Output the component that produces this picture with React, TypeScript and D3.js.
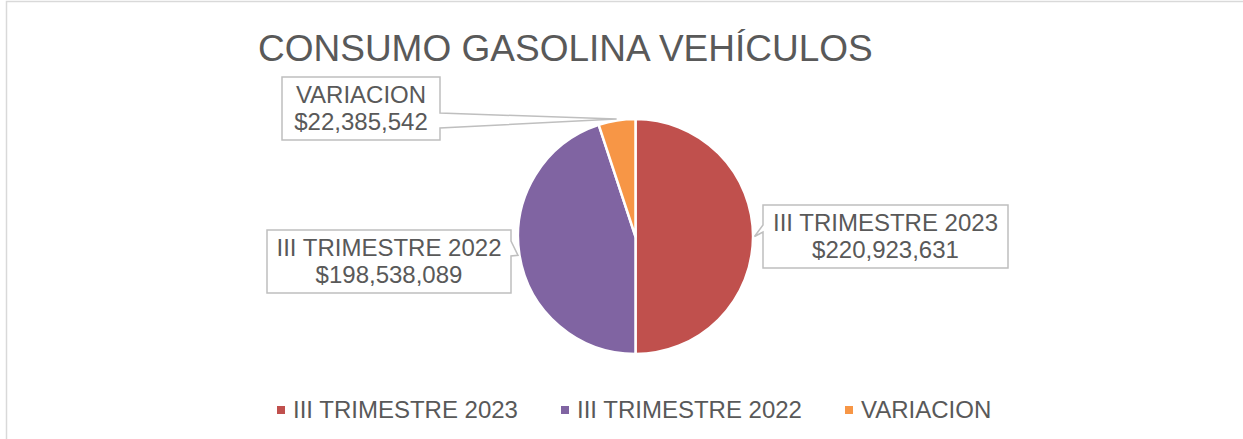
import React from "react";
import * as d3 from "d3";

const categories = ["III TRIMESTRE 2023", "III TRIMESTRE 2022", "VARIACION"];
const values = [220923631, 198538089, 22385542];
const colors = ["#C0504D", "#8064A2", "#F79646"];
const title = "CONSUMO GASOLINA VEHÍCULOS";

const W = 1243;
const H = 439;
const cx = 635.5;
const cy = 236.5;
const R = 117.5;
const FONT = "'Liberation Sans', Arial, sans-serif";
const TEXT = "#595959";

// callout box layout (x, y, width, height, side where wedge attaches, wedge base on edge)
const boxLayout = [
  { x: 763, y: 205, w: 245, h: 63, side: "left", wy0: 225, wy1: 232 },
  { x: 267, y: 230, w: 244, h: 63, side: "right", wy0: 241, wy1: 256 },
  { x: 282, y: 77, w: 158, h: 63, side: "right", wy0: 113, wy1: 128 },
];

const legendX = [277, 561, 845];

export default function App() {
  const pie = d3
    .pie<number>()
    .sort(null)
    .value((d) => d)
    .startAngle(0)
    .endAngle(2 * Math.PI);
  const arcs = pie(values);
  const arc = d3.arc<d3.PieArcDatum<number>>().innerRadius(0).outerRadius(R);
  const fmt = d3.format("$,");

  return (
    <svg
      width={W}
      height={H}
      style={{ position: "absolute", left: 0, top: 0, background: "#fff" }}
      fontFamily={FONT}
    >
      <rect x={6.5} y={1.5} width={W + 10} height={H + 10} fill="#fff" stroke="#d9d9d9" strokeWidth={1.5} />
      <text x={258} y={61} fontSize={37} fill={TEXT}>
        {title}
      </text>
      <g transform={`translate(${cx},${cy})`}>
        {arcs.map((a, i) => (
          <path key={i} d={arc(a) || ""} fill={colors[i]} stroke="#fff" strokeWidth={2.5} strokeLinejoin="round" />
        ))}
      </g>
      {arcs.map((a, i) => {
        const b = boxLayout[i];
        const mid = (a.startAngle + a.endAngle) / 2;
        const tr = R + 1.5;
        const tx = cx + tr * Math.sin(mid);
        const ty = cy - tr * Math.cos(mid);
        let d = "";
        if (b.side === "right") {
          d = `M${b.x},${b.y}H${b.x + b.w}V${b.wy0}L${tx},${ty}L${b.x + b.w},${b.wy1}V${b.y + b.h}H${b.x}Z`;
        } else {
          d = `M${b.x},${b.y}H${b.x + b.w}V${b.y + b.h}H${b.x}V${b.wy1}L${tx},${ty}L${b.x},${b.wy0}Z`;
        }
        const mx = b.x + b.w / 2;
        return (
          <g key={i}>
            <path d={d} fill="#fff" stroke="#bfbfbf" strokeWidth={1.5} strokeLinejoin="miter" />
            <text x={mx} y={b.y + 26} fontSize={24} fill={TEXT} textAnchor="middle">
              {categories[i]}
            </text>
            <text x={mx} y={b.y + 53} fontSize={24} fill={TEXT} textAnchor="middle">
              {fmt(values[i])}
            </text>
          </g>
        );
      })}
      {categories.map((c, i) => (
        <g key={i}>
          <rect x={legendX[i]} y={406} width={8} height={8} fill={colors[i]} />
          <text x={legendX[i] + 16} y={418} fontSize={24} fill={TEXT}>
            {c}
          </text>
        </g>
      ))}
    </svg>
  );
}
